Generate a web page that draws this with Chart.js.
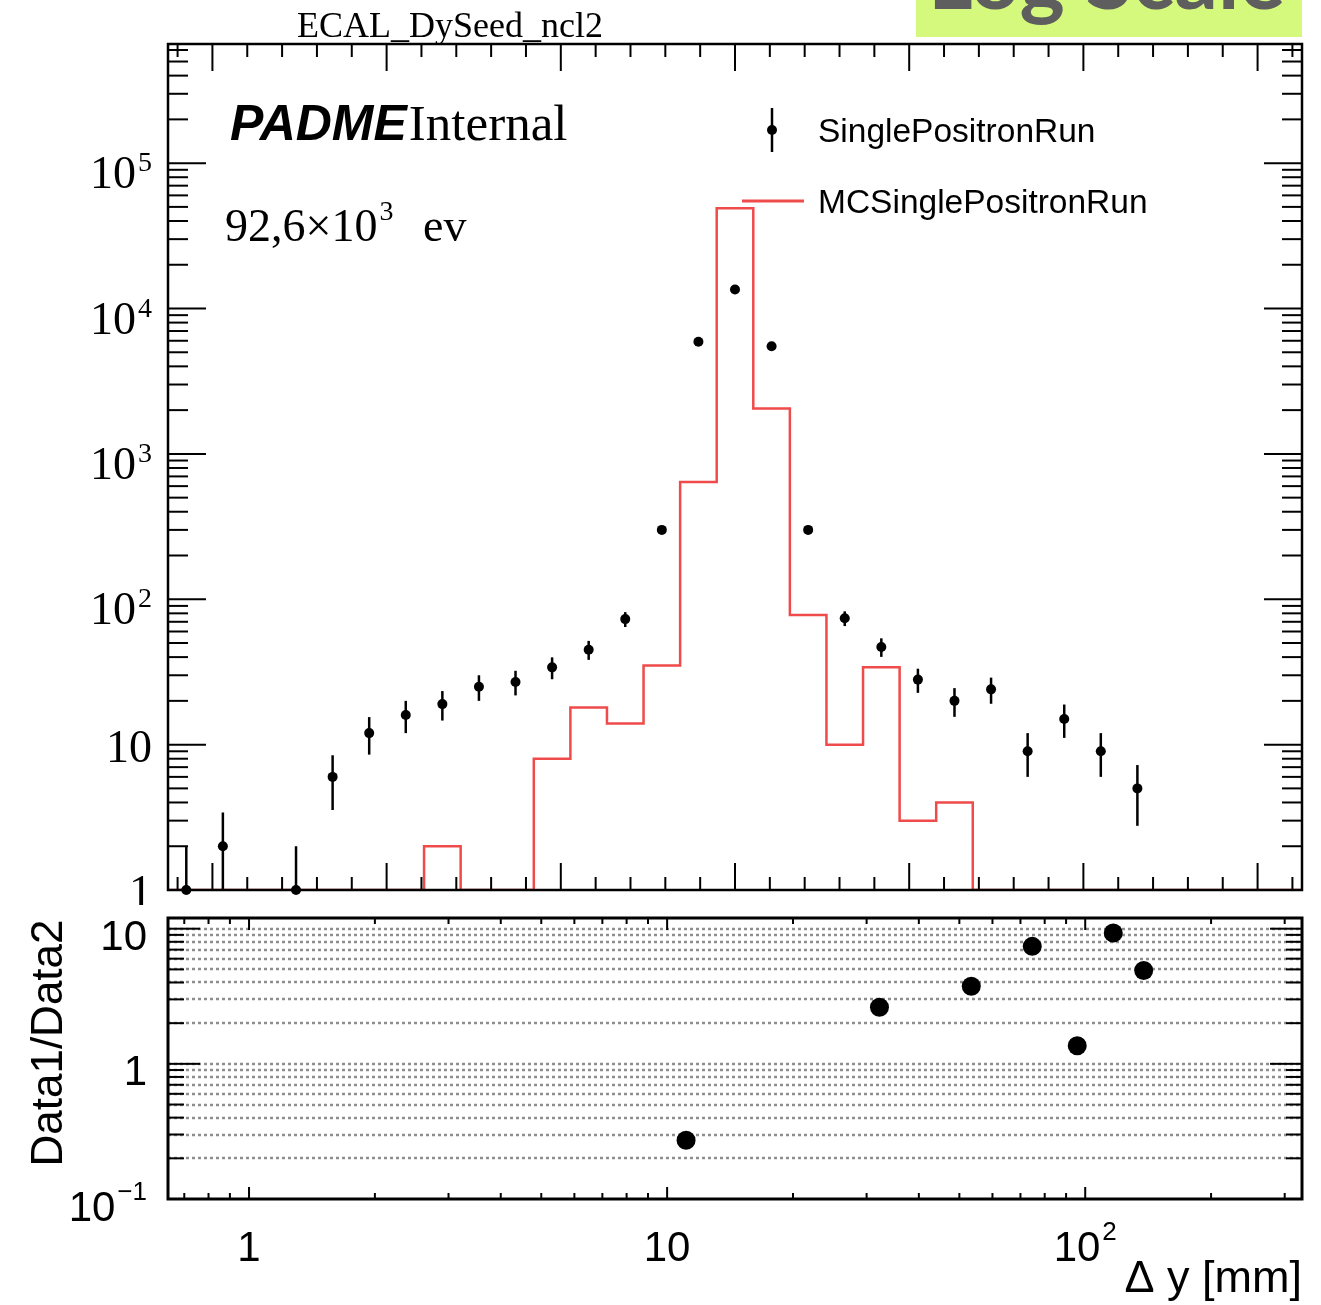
<!DOCTYPE html>
<html lang="en">
<head>
  <meta charset="UTF-8">
  <title>ECAL_DySeed_ncl2</title>
  <script src="https://cdn.jsdelivr.net/npm/chart.js"></script>
  <style>
    body {
      margin: 0;
      width: 1321px;
      height: 1305px;
      background: #fff;
      position: relative;
      overflow: hidden;
    }
    canvas {
      position: absolute;
      left: 0;
      display: block;
    }
    #upper { top: 0; }
    #lower { top: 905px; }
  </style>
</head>
<body>
  <canvas id="upper" width="1321" height="905"></canvas>
  <canvas id="lower" width="1321" height="400"></canvas>

  <script>
    // Δy histogram: 31 bins of 21 mm (one crystal pitch), centred on 0
    const binLow = -325.5;
    const binWidth = 21;

    const dataCounts = [1, 2, 0, 1, 6, 12, 16, 19, 25, 27, 34, 45, 73, 300, 5900,
                        13500, 5500, 300, 74, 47, 28, 20, 24, 9, 15, 9, 5, 0, 0, 0, 0];
    const mcCounts = [0, 0, 0, 0, 0, 0, 0, 2, 0, 0, 8, 18, 14, 35, 640,
                      49000, 2050, 78, 10, 34, 3, 4, 0, 0, 0, 0, 0, 0, 0, 0, 0];

    // ratio panel (drawn on a log x axis, only positive bins survive)
    const ratioX = [11.1, 32.2, 53.4, 74.7, 95.7, 116.7, 138];
    const ratioY = [0.272, 2.62, 3.75, 7.4, 1.36, 9.3, 4.9];

    // tick labels
    const upperYLabels = [
      { v: 1e5, base: '10', exp: '5' },
      { v: 1e4, base: '10', exp: '4' },
      { v: 1e3, base: '10', exp: '3' },
      { v: 1e2, base: '10', exp: '2' },
      { v: 10, base: '10', exp: '' },
      { v: 1, base: '1', exp: '' }
    ];
    const lowerYLabels = [
      { v: 10, base: '10', exp: '' },
      { v: 1, base: '1', exp: '' },
      { v: 0.1, base: '10', exp: '\u22121' }
    ];
    const lowerXLabels = [
      { v: 1, base: '1', exp: '' },
      { v: 10, base: '10', exp: '' },
      { v: 100, base: '10', exp: '2' }
    ];

    const upperYMin = 1, upperYMax = 6.6e5;
    const lowerXMin = 0.64, lowerXMax = 330;
    const lowerYMin = 0.1, lowerYMax = 12;

    // ---- build datasets ----
    const dataPoints = [];
    const dataErrs = [];
    dataCounts.forEach((c, i) => {
      if (c > 0) {
        dataPoints.push({ x: binLow + (i + 0.5) * binWidth, y: c });
        dataErrs.push(Math.sqrt(c)); // Poisson errors
      }
    });

    const mcSteps = [];
    mcCounts.forEach((c, i) => {
      const lo = binLow + i * binWidth;
      const h = Math.max(c, upperYMin); // empty bins lie on the frame floor, like ROOT
      mcSteps.push({ x: lo, y: h }, { x: lo + binWidth, y: h });
    });

    const ratioPoints = ratioX.map((x, i) => ({ x: x, y: ratioY[i] }));

    // ---- tick helpers ----
    function logMinors(min, max) {
      const out = [];
      for (let d = Math.floor(Math.log10(min)); d <= Math.ceil(Math.log10(max)); d++) {
        for (let m = 2; m <= 9; m++) {
          const v = m * Math.pow(10, d);
          if (v > min && v < max) out.push(v);
        }
      }
      return out;
    }
    function logMajors(min, max) {
      const out = [];
      for (let d = Math.ceil(Math.log10(min) - 1e-9); Math.pow(10, d) <= max; d++) out.push(Math.pow(10, d));
      return out;
    }
    const upperXMajor = [], upperXMinor = [];
    for (let v = -320; v <= 320; v += 20) {
      (v % 100 === 0 ? upperXMajor : upperXMinor).push(v);
    }

    function drawPower(ctx, lab, x, baseY, o, align) {
      ctx.font = o.size + 'px ' + o.family;
      const wb = ctx.measureText(lab.base).width;
      let we = 0;
      if (lab.exp) {
        ctx.font = o.supSize + 'px ' + o.family;
        we = ctx.measureText(lab.exp).width + 2;
      }
      const total = wb + we;
      const x0 = align === 'right' ? x - total : x - total / 2;
      ctx.textAlign = 'left';
      ctx.textBaseline = 'alphabetic';
      ctx.font = o.size + 'px ' + o.family;
      ctx.fillText(lab.base, x0, baseY);
      if (lab.exp) {
        ctx.font = o.supSize + 'px ' + o.family;
        ctx.fillText(lab.exp, x0 + wb + 2, baseY - o.supRise);
      }
    }

    // ROOT style frame: inward ticks on all four sides, tick labels, optional dotted grid
    const rootFrame = {
      id: 'rootFrame',
      beforeDatasetsDraw(chart, args, o) {
        if (!o.gridY) return;
        const { ctx, chartArea: a, scales: { y } } = chart;
        ctx.save();
        ctx.strokeStyle = '#8e8e8e';
        ctx.lineWidth = 2.5;
        ctx.setLineDash([3, 3]);
        o.gridY.forEach(v => {
          const py = Math.round(y.getPixelForValue(v));
          ctx.beginPath();
          ctx.moveTo(a.left, py);
          ctx.lineTo(a.right, py);
          ctx.stroke();
        });
        ctx.restore();
      },
      afterDraw(chart, args, o) {
        const { ctx, chartArea: a, scales: { x, y } } = chart;
        const seg = (x1, y1, x2, y2) => {
          ctx.beginPath(); ctx.moveTo(x1, y1); ctx.lineTo(x2, y2); ctx.stroke();
        };
        ctx.save();
        ctx.strokeStyle = '#000';
        ctx.lineWidth = 2;
        const xt = (vals, len) => vals.forEach(v => {
          const px = x.getPixelForValue(v);
          seg(px, a.bottom, px, a.bottom - len);
          seg(px, a.top, px, a.top + len);
        });
        const yt = (vals, len) => vals.forEach(v => {
          const py = y.getPixelForValue(v);
          seg(a.left, py, a.left + len, py);
          seg(a.right, py, a.right - len, py);
        });
        xt(o.xMajor, o.xMajorLen);
        xt(o.xMinor, o.xMinorLen);
        yt(o.yMajor, o.yMajorLen);
        yt(o.yMinor, o.yMinorLen);

        ctx.lineWidth = o.frameWidth;
        ctx.strokeRect(a.left, a.top, a.right - a.left, a.bottom - a.top);

        ctx.fillStyle = '#000';
        if (o.yLabels) {
          o.yLabels.forEach(lab => {
            const py = y.getPixelForValue(lab.v);
            drawPower(ctx, lab, o.yLabelRight, py + (lab.exp ? o.yExpOff : o.yPlainOff), o.yFont, 'right');
          });
        }
        if (o.xLabels) {
          o.xLabels.forEach(lab => {
            const px = x.getPixelForValue(lab.v);
            drawPower(ctx, lab, px, a.bottom + o.xLabelOff, o.xFont, 'center');
          });
        }
        ctx.restore();
      }
    };

    // vertical error bars on the data markers
    const errorBars = {
      id: 'errorBars',
      afterDatasetsDraw(chart) {
        const { ctx, chartArea: a, scales: { y } } = chart;
        chart.data.datasets.forEach((ds, di) => {
          if (!ds.errs) return;
          const meta = chart.getDatasetMeta(di);
          ctx.save();
          ctx.strokeStyle = '#000';
          ctx.lineWidth = 2.5;
          meta.data.forEach((pt, j) => {
            const v = ds.data[j].y, e = ds.errs[j];
            const top = Math.max(y.getPixelForValue(v + e), a.top);
            const bot = v - e > y.min ? y.getPixelForValue(v - e) : a.bottom;
            ctx.beginPath();
            ctx.moveTo(pt.x, top);
            ctx.lineTo(pt.x, bot);
            ctx.stroke();
          });
          ctx.restore();
        });
      }
    };

    // title, PADME tag, event count and legend
    const upperText = {
      id: 'upperText',
      afterDraw(chart) {
        const ctx = chart.ctx;
        ctx.save();
        ctx.textBaseline = 'alphabetic';
        ctx.textAlign = 'left';

        // slide tag
        ctx.fillStyle = '#d5f97c';
        ctx.fillRect(916, 0, 386, 37);
        ctx.save();
        ctx.beginPath();
        ctx.rect(916, 0, 386, 37);
        ctx.clip();
        ctx.fillStyle = '#5e5e5e';
        ctx.font = 'bold 86px Lato';
        ctx.fillText('Log Scale', 928, 9);
        ctx.restore();

        ctx.fillStyle = '#000';
        ctx.font = '36px "Liberation Serif"';
        ctx.fillText('ECAL_DySeed_ncl2', 297, 37);

        ctx.font = 'italic bold 50px "Liberation Sans"';
        ctx.fillText('PADME', 230, 140);
        const wP = ctx.measureText('PADME').width;
        ctx.font = '51px "Liberation Serif"';
        ctx.fillText('Internal', 230 + wP + 2, 140);

        ctx.font = '46px "Liberation Serif"';
        ctx.fillText('92,6\u00d710', 225, 241);
        let w = ctx.measureText('92,6\u00d710').width;
        ctx.font = '28px "Liberation Serif"';
        ctx.fillText('3', 225 + w + 2, 220);
        ctx.font = '46px "Liberation Serif"';
        ctx.fillText('ev', 423, 241);

        // legend
        ctx.strokeStyle = '#000';
        ctx.lineWidth = 2.5;
        ctx.beginPath();
        ctx.moveTo(772, 108);
        ctx.lineTo(772, 152);
        ctx.stroke();
        ctx.beginPath();
        ctx.arc(772, 130, 5, 0, Math.PI * 2);
        ctx.fill();
        ctx.strokeStyle = '#ef4b4b';
        ctx.lineWidth = 3;
        ctx.beginPath();
        ctx.moveTo(742, 201);
        ctx.lineTo(804, 201);
        ctx.stroke();

        ctx.fillStyle = '#000';
        ctx.font = '33.5px "Liberation Sans"';
        ctx.fillText(chart.data.datasets[0].label, 818, 142);
        ctx.fillText(chart.data.datasets[1].label, 818, 213);
        ctx.restore();
      }
    };

    const lowerText = {
      id: 'lowerText',
      afterDraw(chart) {
        const ctx = chart.ctx;
        ctx.save();
        ctx.fillStyle = '#000';
        ctx.font = '45px "Liberation Sans"';
        ctx.textAlign = 'right';
        ctx.textBaseline = 'alphabetic';
        ctx.fillText('\u0394 y [mm]', 1302, 387);
        ctx.font = '44px "Liberation Sans"';
        ctx.translate(62, 138);
        ctx.rotate(-Math.PI / 2);
        ctx.textAlign = 'center';
        ctx.fillText('Data1/Data2', 0, 0);
        ctx.restore();
      }
    };

    // ---- upper panel: data vs MC ----
    new Chart(document.getElementById('upper'), {
      type: 'scatter',
      data: {
        datasets: [
          {
            label: 'SinglePositronRun',
            data: dataPoints,
            errs: dataErrs,
            pointRadius: 5,
            pointBackgroundColor: '#000',
            pointBorderWidth: 0,
            showLine: false,
            clip: false
          },
          {
            label: 'MCSinglePositronRun',
            data: mcSteps,
            showLine: true,
            borderColor: '#ef4b4b',
            borderWidth: 2.5,
            pointRadius: 0,
            fill: false,
            tension: 0
          }
        ]
      },
      options: {
        responsive: false,
        animation: false,
        layout: { padding: { left: 168, right: 19, top: 44, bottom: 15 } },
        scales: {
          x: { type: 'linear', min: binLow, max: binLow + binWidth * dataCounts.length, bounds: 'data', display: false },
          y: { type: 'logarithmic', min: upperYMin, max: upperYMax, bounds: 'data', display: false }
        },
        plugins: {
          legend: { display: false },
          tooltip: { enabled: false },
          rootFrame: {
            frameWidth: 2.5,
            xMajor: upperXMajor, xMinor: upperXMinor, xMajorLen: 27, xMinorLen: 13,
            yMajor: logMajors(upperYMin, upperYMax), yMinor: logMinors(upperYMin, upperYMax),
            yMajorLen: 38, yMinorLen: 20,
            yLabels: upperYLabels,
            yLabelRight: 152, yPlainOff: 17, yExpOff: 25,
            yFont: { family: '"Liberation Serif"', size: 46, supSize: 28, supRise: 17 }
          }
        }
      },
      plugins: [rootFrame, errorBars, upperText]
    });

    // ---- lower panel: ratio ----
    const lowerYMinor = logMinors(lowerYMin, lowerYMax);
    const lowerYMajor = logMajors(lowerYMin, lowerYMax);
    new Chart(document.getElementById('lower'), {
      type: 'scatter',
      data: {
        datasets: [{
          label: 'Data1/Data2',
          data: ratioPoints,
          pointRadius: 9.5,
          pointBackgroundColor: '#000',
          pointBorderWidth: 0,
          showLine: false,
          clip: false
        }]
      },
      options: {
        responsive: false,
        animation: false,
        layout: { padding: { left: 168, right: 19, top: 13, bottom: 106 } },
        scales: {
          x: { type: 'logarithmic', min: lowerXMin, max: lowerXMax, bounds: 'data', display: false },
          y: { type: 'logarithmic', min: lowerYMin, max: lowerYMax, bounds: 'data', display: false }
        },
        plugins: {
          legend: { display: false },
          tooltip: { enabled: false },
          rootFrame: {
            frameWidth: 3,
            gridY: lowerYMinor.concat(lowerYMajor.filter(v => v > lowerYMin)),
            xMajor: logMajors(lowerXMin, lowerXMax), xMinor: logMinors(lowerXMin, lowerXMax),
            xMajorLen: 12, xMinorLen: 6,
            yMajor: lowerYMajor, yMinor: lowerYMinor, yMajorLen: 32, yMinorLen: 16,
            yLabels: lowerYLabels,
            yLabelRight: 147, yPlainOff: 21, yExpOff: 22,
            yFont: { family: '"Liberation Sans"', size: 42, supSize: 26, supRise: 21 },
            xLabels: lowerXLabels,
            xLabelOff: 62,
            xFont: { family: '"Liberation Sans"', size: 42, supSize: 26, supRise: 21 }
          }
        }
      },
      plugins: [rootFrame, lowerText]
    });
  </script>
</body>
</html>
